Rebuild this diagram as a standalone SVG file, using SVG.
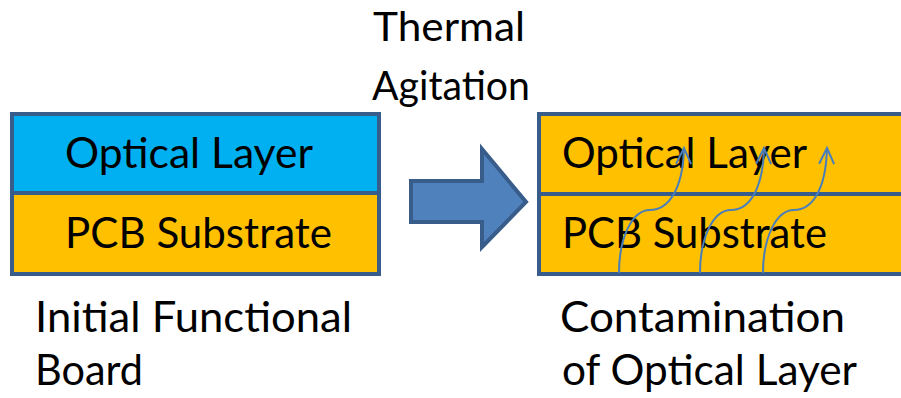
<svg xmlns="http://www.w3.org/2000/svg" width="901" height="398" viewBox="0 0 901 398">
<style>
.t{font-family:Lato,"Open Sans","Liberation Sans",sans-serif;font-size:43px;fill:#000}
.h{font-size:41px}
.box{stroke:#385D8A;stroke-width:4}
.blue{fill:#00B0F0}
.orange{fill:#FFC000}
.wave{fill:none;stroke:#4A7EBB;stroke-width:2}
</style>
<defs>
<marker id="chev" viewBox="0 0 20 20" refX="18" refY="10" markerWidth="20" markerHeight="20" markerUnits="userSpaceOnUse" orient="auto">
<path d="M2,2.5 L18,10 L2,17.5" fill="none" stroke="#4A7EBB" stroke-width="2"/>
</marker>
</defs>
<rect width="901" height="398" fill="#fff"/>
<g id="title">
<text class="t h" x="373" y="41" textLength="152" lengthAdjust="spacingAndGlyphs">Thermal</text>
<text class="t h" x="372" y="100" textLength="158" lengthAdjust="spacingAndGlyphs">Agitation</text>
</g>
<g id="initial-board">
<rect class="box blue" x="12" y="114" width="367" height="79"/>
<rect class="box orange" x="12" y="193" width="367" height="81"/>
<text class="t" x="65" y="168" textLength="248" lengthAdjust="spacingAndGlyphs">Optical Layer</text>
<text class="t" x="65" y="248" textLength="267" lengthAdjust="spacingAndGlyphs">PCB Substrate</text>
</g>
<g id="process-arrow">
<polygon points="411,181 482,181 482,149 526,202 482,247 482,222 411,222" fill="#4F81BD" stroke="#385D8A" stroke-width="4" stroke-linejoin="miter"/>
</g>
<g id="contaminated-board">
<rect class="box orange" x="539" y="114" width="380" height="80"/>
<rect class="box orange" x="539" y="194" width="380" height="80"/>
<text class="t" x="562" y="168" textLength="245" lengthAdjust="spacingAndGlyphs">Optical Layer</text>
<text class="t" x="562" y="248" textLength="265" lengthAdjust="spacingAndGlyphs">PCB Substrate</text>
</g>
<g id="connectors">
<path class="wave" marker-end="url(#chev)" d="M619,273 C619,238 632,210 650,210 C668,210 683,190 684,148"/>
<path class="wave" marker-end="url(#chev)" d="M700,273 C700,238 713,210 731,210 C749,210 763,190 764,148"/>
<path class="wave" marker-end="url(#chev)" d="M763,273 C763,238 776,210 794,210 C812,210 826,190 827,148"/>
</g>
<g id="captions">
<text class="t" x="35" y="332" textLength="317" lengthAdjust="spacingAndGlyphs">Initial Functional</text>
<text class="t" x="35" y="385" textLength="108" lengthAdjust="spacingAndGlyphs">Board</text>
<text class="t" x="560" y="332" textLength="285" lengthAdjust="spacingAndGlyphs">Contamination</text>
<text class="t" x="562" y="385" textLength="295" lengthAdjust="spacingAndGlyphs">of Optical Layer</text>
</g>
</svg>
